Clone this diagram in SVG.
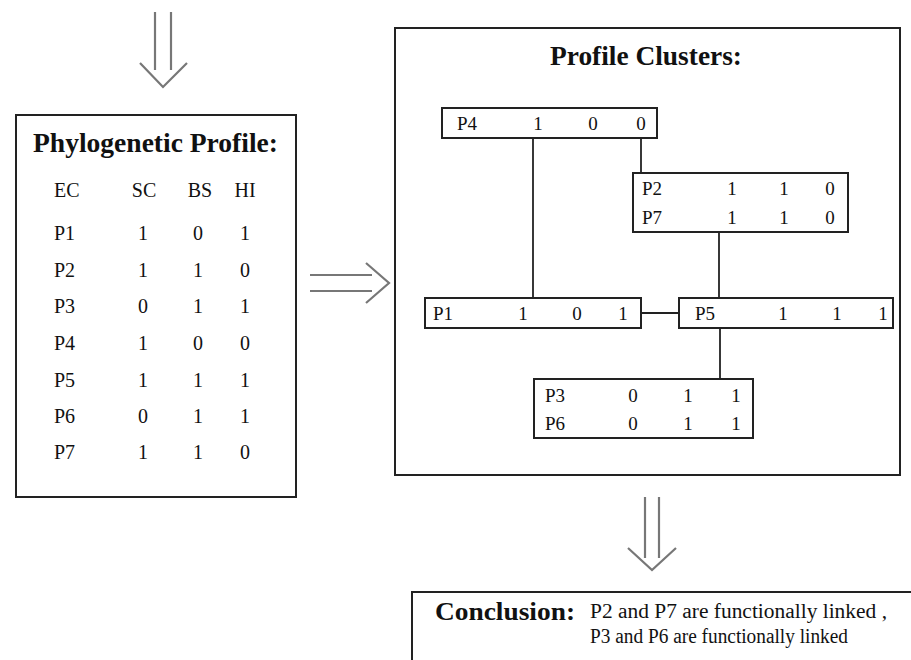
<svg xmlns="http://www.w3.org/2000/svg" width="911" height="660" viewBox="0 0 911 660">
<style>
.box{fill:#fff;stroke:#222;stroke-width:2}
.arr{fill:none;stroke:#777;stroke-width:2.2}
.con{fill:none;stroke:#222;stroke-width:1.8}
text{font-family:"Liberation Serif","Times New Roman",serif;fill:#111}
.title{font-weight:bold;font-size:27px;text-anchor:middle}
.t{font-size:20px}
.c{font-size:19px}
.m{text-anchor:middle}
.concl{font-weight:bold;font-size:25px}
.ct{font-size:20px}
</style>
<rect width="911" height="660" fill="#fff"/>
<g id="arrow-top" class="arr">
<line x1="155" y1="12" x2="155" y2="70"/>
<line x1="171" y1="12" x2="171" y2="70"/>
<polyline points="140,63 163,87 187,63"/>
</g>
<g id="phylo-profile">
<rect class="box" x="16" y="115" width="280" height="382"/>
<text class="title" x="155.5" y="152" textLength="245" lengthAdjust="spacingAndGlyphs">Phylogenetic Profile:</text>
<g class="t">
<text x="54" y="197">EC</text><text class="m" x="144" y="197">SC</text><text class="m" x="200" y="197">BS</text><text class="m" x="245" y="197">HI</text>
<text x="54" y="240">P1</text><text class="m" x="143" y="240">1</text><text class="m" x="198" y="240">0</text><text class="m" x="245" y="240">1</text>
<text x="54" y="277">P2</text><text class="m" x="143" y="277">1</text><text class="m" x="198" y="277">1</text><text class="m" x="245" y="277">0</text>
<text x="54" y="313">P3</text><text class="m" x="143" y="313">0</text><text class="m" x="198" y="313">1</text><text class="m" x="245" y="313">1</text>
<text x="54" y="350">P4</text><text class="m" x="143" y="350">1</text><text class="m" x="198" y="350">0</text><text class="m" x="245" y="350">0</text>
<text x="54" y="387">P5</text><text class="m" x="143" y="387">1</text><text class="m" x="198" y="387">1</text><text class="m" x="245" y="387">1</text>
<text x="54" y="423">P6</text><text class="m" x="143" y="423">0</text><text class="m" x="198" y="423">1</text><text class="m" x="245" y="423">1</text>
<text x="54" y="459">P7</text><text class="m" x="143" y="459">1</text><text class="m" x="198" y="459">1</text><text class="m" x="245" y="459">0</text>
</g>
</g>
<g id="arrow-mid" class="arr">
<line x1="310" y1="275" x2="372" y2="275"/>
<line x1="310" y1="291" x2="372" y2="291"/>
<polyline points="366,263 389,283 366,303"/>
</g>
<g id="profile-clusters">
<rect class="box" x="395" y="28" width="505" height="447"/>
<text class="title" x="646" y="65" textLength="192" lengthAdjust="spacingAndGlyphs">Profile Clusters:</text>
</g>
<g id="connectors" class="con">
<line x1="533" y1="138" x2="533" y2="298"/>
<line x1="641" y1="138" x2="641" y2="173"/>
<line x1="719" y1="232" x2="719" y2="298"/>
<line x1="641" y1="313" x2="679" y2="313"/>
<line x1="720" y1="328" x2="720" y2="379"/>
</g>
<g id="node-P4" class="c">
<rect class="box" x="442" y="108" width="215" height="30"/>
<text x="457" y="130">P4</text><text class="m" x="538" y="130">1</text><text class="m" x="593" y="130">0</text><text class="m" x="641" y="130">0</text>
</g>
<g id="node-P2-P7" class="c">
<rect class="box" x="633" y="173" width="215" height="59"/>
<text x="642" y="195">P2</text><text class="m" x="732" y="195">1</text><text class="m" x="784" y="195">1</text><text class="m" x="830" y="195">0</text>
<text x="642" y="224">P7</text><text class="m" x="732" y="224">1</text><text class="m" x="784" y="224">1</text><text class="m" x="830" y="224">0</text>
</g>
<g id="node-P1" class="c">
<rect class="box" x="425" y="298" width="216" height="30"/>
<text x="433" y="320">P1</text><text class="m" x="523" y="320">1</text><text class="m" x="577" y="320">0</text><text class="m" x="623" y="320">1</text>
</g>
<g id="node-P5" class="c">
<rect class="box" x="679" y="298" width="214" height="30"/>
<text x="695" y="320">P5</text><text class="m" x="783" y="320">1</text><text class="m" x="837" y="320">1</text><text class="m" x="883" y="320">1</text>
</g>
<g id="node-P3-P6" class="c">
<rect class="box" x="534" y="379" width="219" height="59"/>
<text x="545" y="402">P3</text><text class="m" x="633" y="402">0</text><text class="m" x="688" y="402">1</text><text class="m" x="736" y="402">1</text>
<text x="545" y="430">P6</text><text class="m" x="633" y="430">0</text><text class="m" x="688" y="430">1</text><text class="m" x="736" y="430">1</text>
</g>
<g id="arrow-bottom" class="arr">
<line x1="645" y1="497" x2="645" y2="558"/>
<line x1="659" y1="497" x2="659" y2="558"/>
<polyline points="628,548 652,570 676,548"/>
</g>
<g id="conclusion">
<rect class="box" x="412" y="592" width="520" height="100"/>
<text class="concl" x="435" y="620" textLength="140" lengthAdjust="spacingAndGlyphs">Conclusion:</text>
<text class="ct" x="590" y="618" textLength="297" lengthAdjust="spacingAndGlyphs">P2 and P7 are functionally linked ,</text>
<text class="ct" x="590" y="643" textLength="258" lengthAdjust="spacingAndGlyphs">P3 and P6 are functionally linked</text>
</g>
</svg>
